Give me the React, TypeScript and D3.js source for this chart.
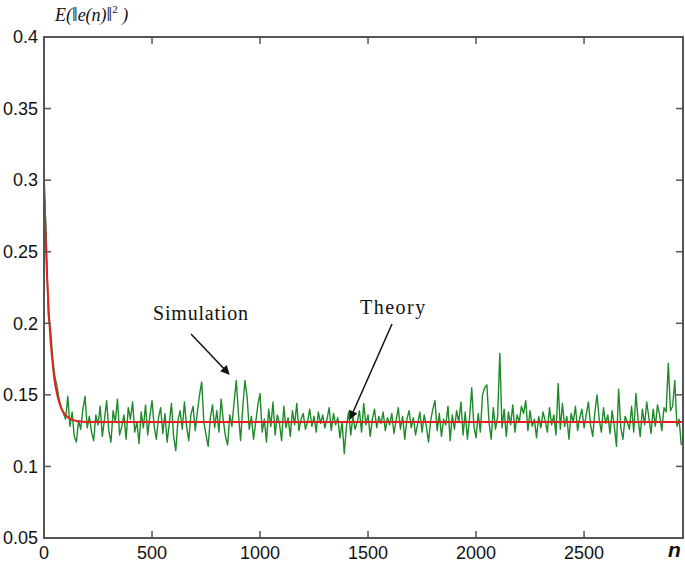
import React from "react";
import * as d3 from "d3";

const simStep = 10;
const simulation: number[] = [
  0.298, 0.262, 0.205, 0.196, 0.176, 0.163, 0.156, 0.147, 0.141, 0.137,
  0.133, 0.149, 0.128, 0.138, 0.121, 0.117, 0.132, 0.126, 0.140, 0.149,
  0.127, 0.135, 0.124, 0.118, 0.136, 0.129, 0.142, 0.121, 0.133, 0.146,
  0.125, 0.117, 0.139, 0.131, 0.147, 0.122, 0.128, 0.136, 0.119, 0.141,
  0.133, 0.145, 0.124, 0.131, 0.116, 0.138, 0.127, 0.143, 0.122, 0.135,
  0.146, 0.128, 0.119, 0.134, 0.141, 0.123, 0.137, 0.117, 0.130, 0.144,
  0.121, 0.111, 0.132, 0.139, 0.126, 0.145, 0.128, 0.118, 0.136, 0.142,
  0.125, 0.138, 0.150, 0.159, 0.131, 0.122, 0.114, 0.134, 0.143, 0.127,
  0.139, 0.124, 0.147, 0.132, 0.121, 0.115, 0.136, 0.128, 0.145, 0.160,
  0.137, 0.118, 0.141, 0.160, 0.149, 0.126, 0.135, 0.119, 0.131, 0.143,
  0.151, 0.124, 0.133, 0.117, 0.140, 0.128, 0.145, 0.122, 0.136, 0.130,
  0.118, 0.142, 0.127, 0.134, 0.121, 0.139, 0.129, 0.144, 0.125, 0.133,
  0.137, 0.126, 0.131, 0.140, 0.128, 0.135, 0.124, 0.138, 0.130, 0.136,
  0.127, 0.133, 0.141, 0.125, 0.137, 0.129, 0.134, 0.120, 0.131, 0.109,
  0.128, 0.138, 0.122, 0.135, 0.126, 0.131, 0.139, 0.124, 0.144, 0.129,
  0.136, 0.121, 0.133, 0.140, 0.127, 0.135, 0.130, 0.138, 0.125, 0.134,
  0.129, 0.137, 0.123, 0.132, 0.141, 0.126, 0.135, 0.119, 0.133, 0.139,
  0.127, 0.134, 0.122, 0.130, 0.138, 0.124, 0.136, 0.128, 0.117, 0.132,
  0.140, 0.146, 0.125, 0.137, 0.121, 0.133, 0.129, 0.142, 0.118, 0.136,
  0.126, 0.139, 0.131, 0.145, 0.122, 0.138, 0.119, 0.134, 0.155, 0.128,
  0.120, 0.137, 0.124, 0.150, 0.155, 0.157, 0.131, 0.119, 0.141, 0.126,
  0.135, 0.179, 0.127, 0.140, 0.121, 0.138, 0.129, 0.143, 0.124, 0.136,
  0.131, 0.142, 0.137, 0.146, 0.125, 0.139, 0.128, 0.133, 0.120, 0.135,
  0.127, 0.138, 0.132, 0.124, 0.141, 0.129, 0.136, 0.122, 0.158, 0.126,
  0.144, 0.128, 0.135, 0.119, 0.137, 0.131, 0.142, 0.125, 0.134, 0.140,
  0.127, 0.136, 0.145, 0.129, 0.121, 0.138, 0.150, 0.133, 0.124, 0.141,
  0.130, 0.136, 0.123, 0.139, 0.128, 0.114, 0.154, 0.127, 0.119, 0.135,
  0.131, 0.126, 0.142, 0.124, 0.151, 0.133, 0.121, 0.140, 0.129, 0.145,
  0.134, 0.123, 0.140, 0.128, 0.143, 0.136, 0.125, 0.141, 0.138, 0.172,
  0.139, 0.142, 0.160, 0.128, 0.133, 0.115,
];

const theoryN: number[] = [0, 10, 20, 30, 40, 50, 60, 70, 80, 90, 100, 120, 140, 160, 200, 2958];
const theoryV: number[] = [0.3, 0.249, 0.214, 0.189, 0.172, 0.159, 0.151, 0.145, 0.1407, 0.1378, 0.1358, 0.1333, 0.1322, 0.1315, 0.1311, 0.131];

const xTicks: number[] = [0, 500, 1000, 1500, 2000, 2500];
const yTicks: number[] = [0.05, 0.1, 0.15, 0.2, 0.25, 0.3, 0.35, 0.4];
const yTickLabels: string[] = ["0.05", "0.1", "0.15", "0.2", "0.25", "0.3", "0.35", "0.4"];

const W = 685;
const H = 567;
const left = 44;
const right = 683;
const top = 37;
const bottom = 538;

export default function App() {
  const x = d3.scaleLinear().domain([0, 2958]).range([left, right]);
  const y = d3.scaleLinear().domain([0.05, 0.4]).range([bottom, top]);

  const simLine = d3
    .line<number>()
    .x((_, i) => x(i * simStep))
    .y((d) => y(d));
  const theoryLine = d3
    .line<number>()
    .x((_, i) => x(theoryN[i]))
    .y((d) => y(d))
    .curve(d3.curveMonotoneX);

  const axisColor = "#555";
  const tickLen = 7;
  const serif = "Liberation Serif, Times New Roman, serif";
  const sans = "Liberation Sans, Arial, sans-serif";

  return (
    <svg
      width={W}
      height={H}
      style={{ position: "absolute", left: 0, top: 0, background: "#fff", display: "block" }}
    >
      <defs>
        <marker id="arr" viewBox="0 0 10 10" refX="9" refY="5" markerWidth="11" markerHeight="9" orient="auto-start-reverse" markerUnits="userSpaceOnUse">
          <path d="M0,0 L10,5 L0,10 z" fill="#111" />
        </marker>
      </defs>

      {/* data lines */}
      <path d={simLine(simulation) || ""} fill="none" stroke="#1f8a2a" strokeWidth={1.4} strokeLinejoin="round" />
      <path d={theoryLine(theoryV) || ""} fill="none" stroke="#e3201b" strokeWidth={2} />

      {/* frame */}
      <rect x={left} y={top} width={right - left} height={bottom - top} fill="none" stroke={axisColor} strokeWidth={2} />

      {/* x ticks bottom and top */}
      {xTicks.map((t) => (
        <g key={"xt" + t}>
          {t > 0 && (
            <>
              <line x1={x(t)} x2={x(t)} y1={bottom} y2={bottom - tickLen} stroke={axisColor} strokeWidth={1.5} />
              <line x1={x(t)} x2={x(t)} y1={top} y2={top + tickLen} stroke={axisColor} strokeWidth={1.5} />
            </>
          )}
          <text x={x(t)} y={559} textAnchor="middle" fontFamily={sans} fontSize={18} fill="#111">
            {t}
          </text>
        </g>
      ))}

      {/* y ticks left and right */}
      {yTicks.map((t, i) => (
        <g key={"yt" + t}>
          {i > 0 && i < yTicks.length - 1 && (
            <>
              <line x1={left} x2={left + tickLen} y1={y(t)} y2={y(t)} stroke={axisColor} strokeWidth={1.5} />
              <line x1={right} x2={right - tickLen} y1={y(t)} y2={y(t)} stroke={axisColor} strokeWidth={1.5} />
            </>
          )}
          <text x={38} y={y(t)} dy="0.35em" textAnchor="end" fontFamily={sans} fontSize={18} fill="#111">
            {yTickLabels[i]}
          </text>
        </g>
      ))}

      {/* y title */}
      <text x={55} y={21} fontFamily={serif} fontStyle="italic" fontSize={18} fill="#111">
        E(
        <tspan fontStyle="normal" fontSize={20}>‖</tspan>
        e(n)
        <tspan fontStyle="normal" fontSize={20}>‖</tspan>
        <tspan dy={-8} fontSize={11} fontStyle="normal">2</tspan>
        <tspan dy={8}> )</tspan>
      </text>

      {/* x title */}
      <text x={668} y={557} fontFamily={sans} fontStyle="italic" fontWeight="bold" fontSize={21} fill="#111">
        n
      </text>

      {/* annotations */}
      <text x={153} y={320} fontFamily={serif} fontSize={20} letterSpacing={0.8} fill="#111">
        Simulation
      </text>
      <line x1={191} y1={334} x2={229} y2={374} stroke="#111" strokeWidth={1.5} markerEnd="url(#arr)" />
      <text x={360} y={314} fontFamily={serif} fontSize={20} letterSpacing={1.5} fill="#111">
        Theory
      </text>
      <line x1={392} y1={324} x2={350} y2={419} stroke="#111" strokeWidth={1.5} markerEnd="url(#arr)" />
    </svg>
  );
}
